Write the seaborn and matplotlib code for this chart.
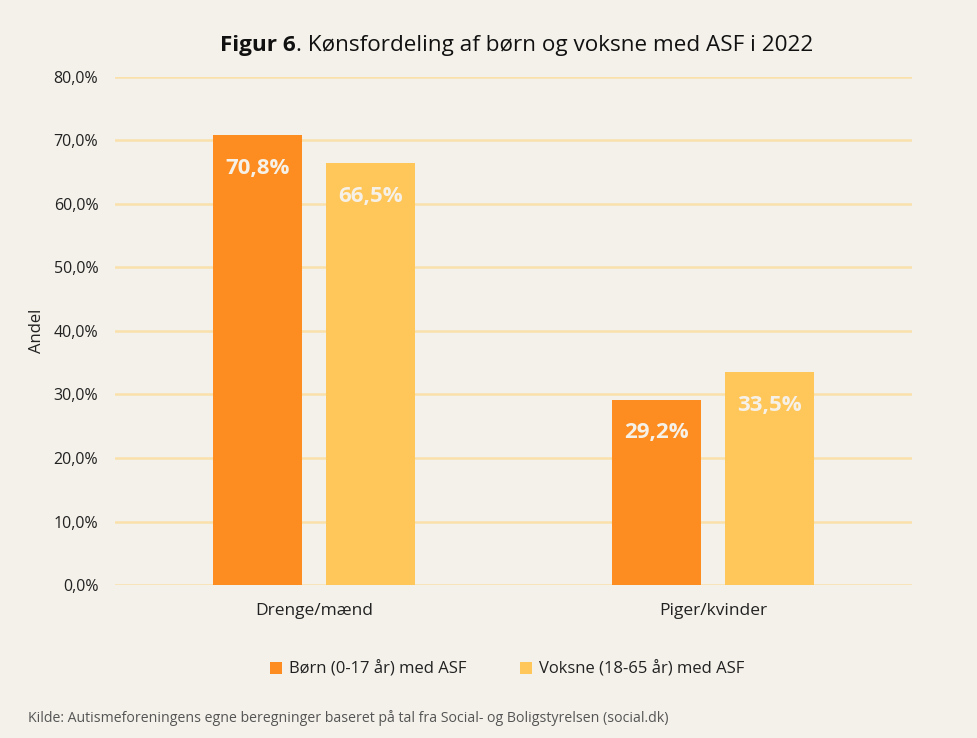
import pandas as pd
import matplotlib.pyplot as plt
import seaborn as sns
from matplotlib.ticker import FuncFormatter

# Data
categories = ['Drenge/mænd', 'Piger/kvinder']
groups = ['Børn (0-17 år) med ASF', 'Voksne (18-65 år) med ASF']
boern = [70.8, 29.2]
voksne = [66.5, 33.5]

df = pd.DataFrame({
    'Køn': categories * 2,
    'Gruppe': [groups[0]] * 2 + [groups[1]] * 2,
    'Andel': boern + voksne,
})

bg = '#F4F1EA'
colors = ['#FD8D20', '#FFC65A']

sns.set_theme(style='white')
plt.rcParams['font.family'] = ['Open Sans', 'DejaVu Sans']

fig = plt.figure(figsize=(9.78, 7.38), dpi=100, facecolor=bg)
ax = fig.add_axes([0.1176, 0.2073, 0.815, 0.6884], facecolor=bg)

sns.barplot(data=df, x='Køn', y='Andel', hue='Gruppe', palette=colors,
            width=0.567, gap=0.213, ax=ax, saturation=1, legend=True,
            linewidth=0, edgecolor='none', zorder=3)

ax.set_ylim(0, 80)
ax.set_xlim(-0.5, 1.5)
ax.set_yticks(range(0, 81, 10))
ax.yaxis.set_major_formatter(FuncFormatter(lambda v, p: f'{v:.1f}%'.replace('.', ',')))
ax.grid(axis='y', color='#FAE1AC', linewidth=1.8, zorder=0)
ax.set_axisbelow(True)
for s in ax.spines.values():
    s.set_visible(False)
ax.tick_params(axis='y', length=0, pad=12, labelsize=11.5, labelcolor='#222222')
ax.tick_params(axis='x', length=0, pad=13, labelsize=12.5, labelcolor='#222222')
ax.set_xlabel('')
ax.set_ylabel('Andel', fontsize=12, color='#222222', labelpad=6)

# value labels
for cont in ax.containers:
    for bar in cont:
        h = bar.get_height()
        ax.annotate(f'{h:.1f}%'.replace('.', ','),
                    (bar.get_x() + bar.get_width() / 2, h),
                    xytext=(0, -24), textcoords='offset points',
                    ha='center', va='center', color='#F6F1E8',
                    fontsize=16, fontweight='bold', zorder=5)

# legend
leg = ax.legend(loc='center', bbox_to_anchor=(0.492, -0.166), ncol=2,
                frameon=False, fontsize=12, handlelength=0.75, handleheight=0.75,
                handletextpad=0.4, columnspacing=3.2)
for t in leg.get_texts():
    t.set_color('#222222')

# title: bold part + regular part
fig.canvas.draw()
r = fig.canvas.get_renderer()
t1 = fig.text(0.225, 0.938, 'Figur 6', fontsize=16.2, fontweight='bold',
              color='#111111', va='center', ha='left')
ext = t1.get_window_extent(renderer=r)
fig.text(ext.x1 / fig.bbox.width, 0.938,
         '. Kønsfordeling af børn og voksne med ASF i 2022',
         fontsize=16.2, color='#111111', va='center', ha='left')

fig.text(0.029, 0.027,
         'Kilde: Autismeforeningens egne beregninger baseret på tal fra Social- og Boligstyrelsen (social.dk)',
         fontsize=10.2, color='#555555', va='center', ha='left')

fig.savefig('out.png', dpi=100, facecolor=bg)
